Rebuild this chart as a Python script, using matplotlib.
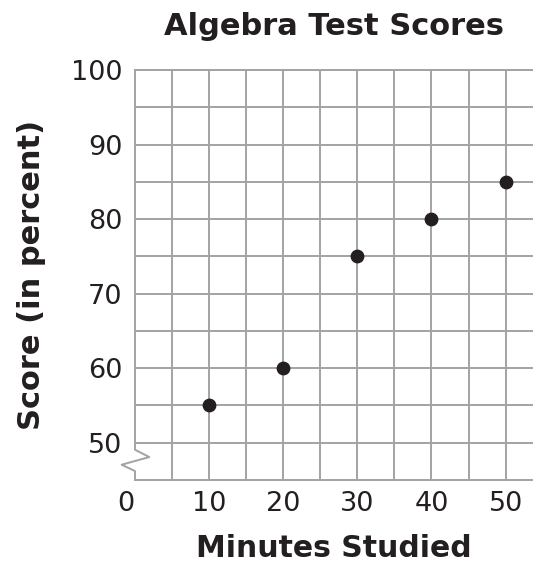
import matplotlib.pyplot as plt
import numpy as np

# dati
minuti = [10, 20, 30, 40, 50]
punteggi = [55, 60, 75, 80, 85]
x_etichette = [10, 20, 30, 40, 50]
y_etichette = [50, 60, 70, 80, 90, 100]

grigio = "#a3a3a3"
testo = "#231f20"

fig = plt.figure(figsize=(5.33, 5.63), dpi=100)
ax = fig.add_axes([135 / 533, 1 - 480 / 563, (533 - 135) / 533, (480 - 70) / 563])

ax.scatter(minuti, punteggi, s=80, color=testo, zorder=3, clip_on=False)

ax.set_xlim(0, 53.7)
ax.set_ylim(45, 100)

# griglia ogni 5
ax.set_xticks(np.arange(5, 55, 5))
ax.set_xticklabels([str(v) if v in x_etichette else "" for v in np.arange(5, 55, 5)])
ax.set_yticks(np.arange(50, 105, 5))
ax.set_yticklabels([str(v) if v in y_etichette else "" for v in np.arange(50, 105, 5)])
ax.tick_params(length=0, labelsize=19.5, colors=testo)
ax.tick_params(axis="y", pad=9)
ax.tick_params(axis="x", pad=8)
ax.grid(True, color=grigio, linewidth=1.4)
ax.set_axisbelow(True)

for lato in ["right", "left"]:
    ax.spines[lato].set_visible(False)
for lato in ["top", "bottom"]:
    ax.spines[lato].set_color(grigio)
    ax.spines[lato].set_linewidth(1.4)

# asse spezzato (zigzag)
ax.plot([0, 0, 1.93, -1.8, 0, 0], [100, 49.06, 48.08, 47.05, 46.2, 45],
        color=grigio, linewidth=1.4, clip_on=False, zorder=2)

ax.text(-1.3, 45 - 1.45, "0", fontsize=19.5, color=testo, ha="center", va="top")

ax.set_title("Algebra Test Scores", fontsize=22, fontweight="bold", color=testo, pad=25)
ax.set_xlabel("Minutes Studied", fontsize=21.5, fontweight="bold", color=testo, labelpad=12)
ax.set_ylabel("Score (in percent)", fontsize=22, fontweight="bold", color=testo, labelpad=18)

plt.savefig("out.png", dpi=100)
